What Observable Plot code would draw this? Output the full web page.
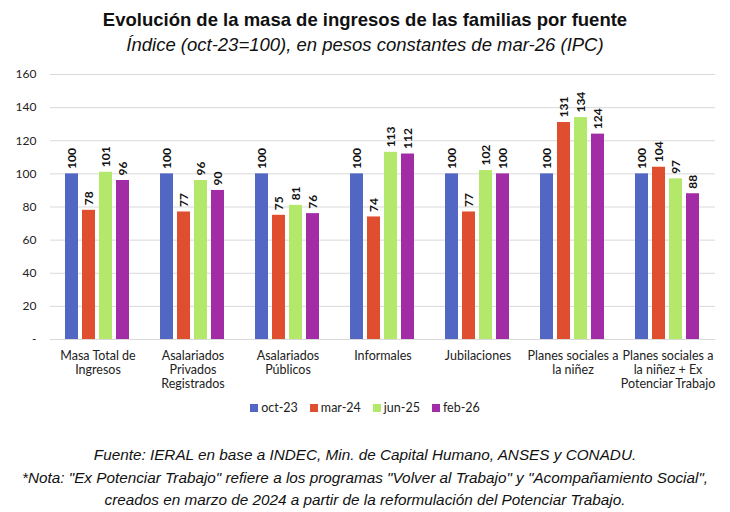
<!DOCTYPE html>
<html><head><meta charset="utf-8">
<script src="https://cdn.jsdelivr.net/npm/d3@7"></script>
<script src="https://cdn.jsdelivr.net/npm/@observablehq/plot@0.6"></script>
<style>
body{margin:0;background:#fff;width:730px;height:512px;position:relative;overflow:hidden;font-family:"Liberation Sans",Arial,sans-serif;color:#111}
#title{position:absolute;top:9px;left:0;width:730px;text-align:center;font-weight:bold;font-size:18.5px}
#subtitle{position:absolute;top:34px;left:0;width:730px;text-align:center;font-style:italic;font-size:18.5px}
#chart{position:absolute;top:60px;left:0}
#legend{position:absolute;top:400px;left:0;width:730px;text-align:center;font-family:Lato,sans-serif;font-size:12.5px;color:#222}
#legend span.item{margin:0 6px;white-space:nowrap}
#legend span.sw{display:inline-block;width:8px;height:8px;margin-right:3px;vertical-align:0px}
#footer{position:absolute;top:444px;left:0;width:730px;text-align:center;font-style:italic;font-size:15.3px;line-height:22.5px}
</style>
</head><body>
<div id="title">Evolución de la masa de ingresos de las familias por fuente</div>
<div id="subtitle">Índice (oct-23=100), en pesos constantes de mar-26 (IPC)</div>
<div id="chart"></div>
<div id="legend"></div>
<div id="footer">Fuente: IERAL en base a INDEC, Min. de Capital Humano, ANSES y CONADU.<br>*Nota: "Ex Potenciar Trabajo" refiere a los programas "Volver al Trabajo" y "Acompañamiento Social",<br>creados en marzo de 2024 a partir de la reformulación del Potenciar Trabajo.</div>
<script>
const categories = [
  "Masa Total de\nIngresos",
  "Asalariados\nPrivados\nRegistrados",
  "Asalariados\nPúblicos",
  "Informales",
  "Jubilaciones",
  "Planes sociales a\nla niñez",
  "Planes sociales a\nla niñez + Ex\nPotenciar Trabajo"
];
const series = ["oct-23", "mar-24", "jun-25", "feb-26"];
const oct23 = [100, 100, 100, 100, 100, 100, 100];
const mar24 = [78, 77, 75, 74, 77, 131, 104];
const jun25 = [101, 96, 81, 113, 102, 134, 97];
const feb26 = [96, 90, 76, 112, 100, 124, 88];
const colors = ["#5266C4", "#E04E30", "#B4E86A", "#A12CA6"];
const yTicks = [0, 20, 40, 60, 80, 100, 120, 140, 160];

const values = [oct23, mar24, jun25, feb26];
const rows = [];
categories.forEach((c, i) => series.forEach((s, j) => rows.push({cat: c, serie: s, value: values[j][i]})));

const chart = Plot.plot({
  width: 730, height: 340,
  marginTop: 14, marginLeft: 50, marginRight: 15, marginBottom: 61,
  style: {fontFamily: "Lato, sans-serif", color: "#222", background: "transparent"},
  fx: {domain: categories, padding: 0},
  x: {domain: series, paddingInner: 0.235, paddingOuter: 0.9, axis: null},
  y: {domain: [0, 160]},
  color: {domain: series, range: colors},
  marks: [
    Plot.gridY(yTicks, {stroke: "#d9d9d9", strokeOpacity: 1, strokeWidth: 1}),
    Plot.axisY({ticks: yTicks, tickFormat: d => d === 0 ? "-" : d, tickSize: 0, tickPadding: 14, fontSize: 12, label: null}),
    Plot.axisFx({anchor: "bottom", tickSize: 0, tickPadding: 10, fontSize: 12.5, lineHeight: 1.15, label: null}),
    Plot.barY(rows, {fx: "cat", x: "serie", y: "value", fill: "serie"}),
    Plot.text(rows, {fx: "cat", x: "serie", y: "value", text: d => String(d.value), rotate: -90, textAnchor: "start", dy: -5, fontWeight: "bold", fontSize: 12, fill: "#111"})
  ]
});
document.getElementById("chart").appendChild(chart);

const legend = document.getElementById("legend");
series.forEach((s, i) => {
  const item = document.createElement("span");
  item.className = "item";
  const sw = document.createElement("span");
  sw.className = "sw";
  sw.style.background = colors[i];
  item.appendChild(sw);
  item.appendChild(document.createTextNode(s));
  legend.appendChild(item);
});
</script>
</body></html>
